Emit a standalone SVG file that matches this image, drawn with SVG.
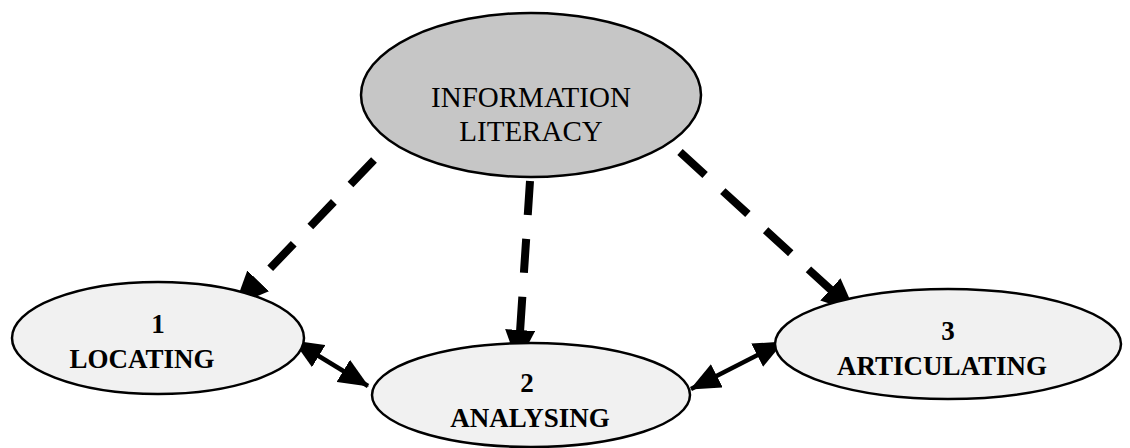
<svg xmlns="http://www.w3.org/2000/svg" width="1130" height="448" viewBox="0 0 1130 448">
<style>
.node{stroke:#000;stroke-width:2.5}
.main{fill:#c6c6c6}
.sub{fill:#f1f1f1}
.t{font-family:"Liberation Serif","Times New Roman",serif;text-anchor:middle;fill:#000}
.tm{font-size:29px}
.ts{font-size:27px;font-weight:bold}
.dash{stroke:#000;stroke-width:8;fill:none;stroke-dasharray:34 24}
.solid{stroke:#000;stroke-width:4.5;fill:none}
</style>
<defs>
<marker id="ah" markerUnits="userSpaceOnUse" viewBox="0 0 34 30" refX="32" refY="15" markerWidth="34" markerHeight="30" orient="auto-start-reverse">
<path d="M0,0 L34,15 L0,30 Z" fill="#000"/>
</marker>
<marker id="ahs" markerUnits="userSpaceOnUse" viewBox="0 0 30 26" refX="29" refY="13" markerWidth="30" markerHeight="26" orient="auto-start-reverse">
<path d="M0,0 L30,13 L0,26 Z" fill="#000"/>
</marker>
</defs>
<g id="connectors">
<line class="dash" x1="374" y1="160" x2="236" y2="304" marker-end="url(#ah)"/>
<line class="dash" x1="530" y1="181" x2="518" y2="362" marker-end="url(#ah)"/>
<line class="dash" x1="680" y1="152" x2="854" y2="311" marker-end="url(#ah)"/>
<line class="solid" x1="294" y1="341" x2="368" y2="386" marker-start="url(#ahs)" marker-end="url(#ahs)"/>
<line class="solid" x1="691" y1="389" x2="783" y2="342" marker-start="url(#ahs)" marker-end="url(#ahs)"/>
</g>
<g id="node-information-literacy">
<ellipse class="node main" cx="531" cy="95" rx="170" ry="82"/>
<text class="t tm" x="531" y="107">INFORMATION</text>
<text class="t tm" x="531" y="141">LITERACY</text>
</g>
<g id="node-locating">
<ellipse class="node sub" cx="158" cy="338" rx="146" ry="56"/>
<text class="t ts" x="158" y="333">1</text>
<text class="t ts" x="142" y="368">LOCATING</text>
</g>
<g id="node-analysing">
<ellipse class="node sub" cx="531" cy="395" rx="159" ry="52"/>
<text class="t ts" x="527" y="392">2</text>
<text class="t ts" x="530" y="427">ANALYSING</text>
</g>
<g id="node-articulating">
<ellipse class="node sub" cx="948" cy="344" rx="173" ry="55"/>
<text class="t ts" x="948" y="340">3</text>
<text class="t ts" x="942" y="375">ARTICULATING</text>
</g>
</svg>
